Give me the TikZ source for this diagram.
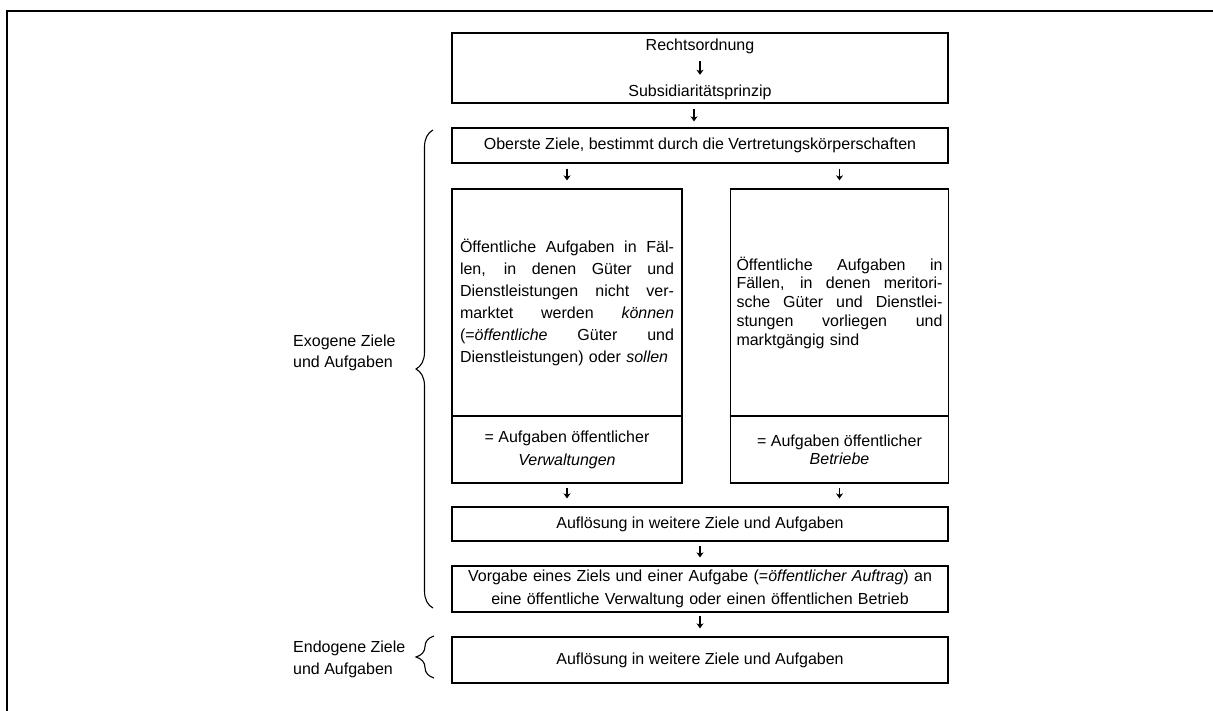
\documentclass[tikz,border=0pt]{standalone}
\usepackage{fontspec}
\setmainfont{Liberation Sans}
\usetikzlibrary{arrows.meta,decorations.pathreplacing}

% one justified line of a manually broken paragraph
\newcommand{\jl}[1]{\makebox[\hsize][s]{\spaceskip=0.3em plus 1fil\relax #1}\\}

\begin{document}
\begin{tikzpicture}[x=1pt,y=-1pt,
  box/.style={draw, line width=1.2pt, inner sep=0pt, minimum width=496pt,
              font=\fontsize{16}{19}\selectfont, text height=11.5pt, text depth=3.5pt},
  multibox/.style={draw, line width=1.2pt, inner sep=0pt},
  txt/.style={inner sep=0pt, font=\fontsize{16}{19}\selectfont, text height=11.5pt, text depth=3.5pt},
  flow/.style={-{Stealth[length=5pt,width=7pt,inset=1.4pt]}, line width=1.2pt,
               shorten <=4pt, shorten >=8pt},
  bracket/.style={line width=1.1pt, decorate}
]
\useasboundingbox (0,0) rectangle (1213,711);

% page frame (top and left edge)
\draw[line width=2.5pt, line join=miter] (7,711) -- (7,11) -- (1213,11);

% legal framework
\node[box, minimum height=70pt] (tb) at (700,68) {};
\node[txt, anchor=base] (r1) at (700,50.5) {Rechtsordnung};
\node[txt, anchor=base] (r2) at (700,96.5) {Subsidiaritätsprinzip};
\draw[flow, shorten <=7pt, shorten >=10pt] (r1) -- (r2);

% top-level goals
\node[box, minimum height=35pt] (ob) at (700,145.5)
  {Oberste Ziele, bestimmt durch die Vertretungskörperschaften};

% administrations
\node[multibox, minimum width=230pt, minimum height=227pt, text width=214pt, align=left,
      font=\fontsize{16}{22.1}\selectfont] (lt) at (567,302.5)
  {\jl{Öffentliche Aufgaben in Fäl-}%
   \jl{len, in denen Güter und}%
   \jl{Dienstleistungen nicht ver-}%
   \jl{marktet werden \textit{können}}%
   \jl{(=\textit{öffentliche} Güter und}%
   Dienstleistungen) oder \textit{sollen}};
\node[multibox, minimum width=230pt, minimum height=67pt, align=center,
      font=\fontsize{16}{23}\selectfont] (lb) at (567,449.5)
  {= Aufgaben öffentlicher\\\textit{Verwaltungen}};

% enterprises
\node[multibox, minimum width=218pt, minimum height=227pt, text width=206pt, align=left,
      font=\fontsize{16}{18.75}\selectfont] (rt) at (839.5,302.5)
  {\jl{Öffentliche Aufgaben in}%
   \jl{Fällen, in denen meritori-}%
   \jl{sche Güter und Dienstlei-}%
   \jl{stungen vorliegen und}%
   marktgängig sind};
\node[multibox, minimum width=218pt, minimum height=67pt, align=center,
      font=\fontsize{16}{18}\selectfont] (rb) at (839.5,449.5)
  {= Aufgaben öffentlicher\\\textit{Betriebe}};

% refinement and mandate
\node[box, minimum height=34pt] (a1) at (700,524) {Auflösung in weitere Ziele und Aufgaben};
\node[multibox, minimum width=496pt, minimum height=46pt, text width=480pt, align=center,
      font=\fontsize{16}{22.7}\selectfont] (vg) at (700,589)
  {Vorgabe eines Ziels und einer Aufgabe (=\textit{öffentlicher Auftrag}) an\\
   eine öffentliche Verwaltung oder einen öffentlichen Betrieb};
\node[box, minimum height=46pt] (a2) at (700,660) {Auflösung in weitere Ziele und Aufgaben};

% connectors
\draw[flow, shorten <=5pt, shorten >=6pt] ([xshift=-6pt]tb.south) -- ([xshift=-6pt]ob.north);
\draw[flow, shorten <=5pt] (ob.south -| lt.north) -- (lt.north);
\draw[flow, shorten <=5pt] (ob.south -| rt.north) -- (rt.north);
\draw[flow] (lb.south) -- (lb.south |- a1.north);
\draw[flow] (rb.south) -- (rb.south |- a1.north);
\draw[flow] (a1) -- (vg);
\draw[flow, shorten <=3pt] (vg) -- (a2);

% braces and their labels
\coordinate (exoTop) at (433,130);
\coordinate (exoBot) at (433,608);
\draw[bracket, decoration={brace, amplitude=17pt, aspect=0.5}] (exoBot) -- (exoTop);
\node[txt, anchor=west, align=left, text height=, text depth=,
      font=\fontsize{16}{21}\selectfont] (exo) at (293,352.5) {Exogene Ziele\\und Aufgaben};

\coordinate (endoTop) at (434,636);
\coordinate (endoBot) at (434,678);
\draw[bracket, decoration={brace, amplitude=18pt, aspect=0.5}] (endoBot) -- (endoTop);
\node[txt, anchor=west, align=left, text height=, text depth=,
      font=\fontsize{16}{22}\selectfont] (endo) at (293,659) {Endogene Ziele\\und Aufgaben};
\end{tikzpicture}
\end{document}
